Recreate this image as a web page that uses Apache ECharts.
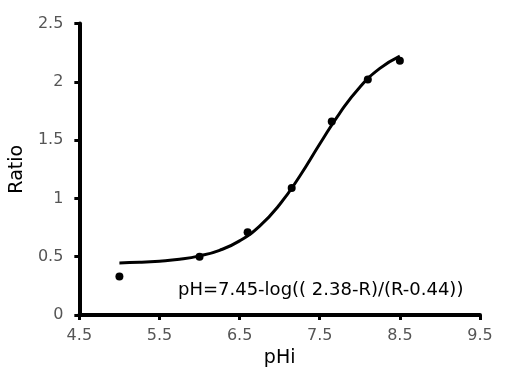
<!DOCTYPE html>
<html>
<head>
<meta charset="utf-8">
<script src="https://cdn.jsdelivr.net/npm/echarts@6/dist/echarts.min.js"></script>
<style>html,body{margin:0;padding:0;background:#fff}#c{width:508px;height:381px}</style>
</head>
<body>
<div id="c"></div>
<script>
// Measured points (pHi, Ratio)
var pointPH = [5.0, 6.0, 6.6, 7.15, 7.65, 8.1, 8.5];
var pointRatio = [0.33, 0.50, 0.71, 1.09, 1.66, 2.02, 2.18];
// Fitted curve
var fitPH = [5.0, 5.25, 5.5, 5.75, 6.0, 6.25, 6.5, 6.75, 7.0, 7.25, 7.5, 7.75, 8.0, 8.25, 8.5];
var fitRatio = [0.447, 0.452, 0.462, 0.478, 0.507, 0.555, 0.636, 0.763, 0.948, 1.19, 1.466, 1.732, 1.954, 2.115, 2.221];
var xTicks = [4.5, 5.5, 6.5, 7.5, 8.5, 9.5];
var yTicks = [0, 0.5, 1, 1.5, 2, 2.5];
var equationText = 'pH=7.45-log(( 2.38-R)/(R-0.44))';

var chart = echarts.init(document.getElementById('c'), null, {renderer: 'canvas'});
function zip(a, b) { return a.map(function (v, i) { return [v, b[i]]; }); }
var axisCommon = {
  axisLine: {show: true, lineStyle: {color: '#000', width: 4}},
  axisTick: {show: true, inside: false, length: 5, lineStyle: {color: '#000', width: 3}},
  splitLine: {show: false},
  nameTextStyle: {fontFamily: 'DejaVu Sans', fontSize: 19, color: '#000'}
};
chart.setOption({
  animation: false,
  backgroundColor: '#fff',
  grid: {left: 78, right: 28, top: 23.5, bottom: 66, containLabel: false},
  xAxis: Object.assign({}, axisCommon, {
    type: 'value', min: xTicks[0], max: xTicks[xTicks.length - 1], interval: 1,
    name: 'pHi', nameLocation: 'middle', nameGap: 32,
    axisLabel: {fontFamily: 'DejaVu Sans', fontSize: 16, color: '#555', margin: 13}
  }),
  yAxis: Object.assign({}, axisCommon, {
    type: 'value', min: yTicks[0], max: yTicks[yTicks.length - 1], interval: 0.5,
    name: 'Ratio', nameLocation: 'middle', nameGap: 52, nameRotate: 90,
    axisLabel: {fontFamily: 'DejaVu Sans', fontSize: 16, color: '#555', margin: 16}
  }),
  series: [
    {
      type: 'line', data: zip(fitPH, fitRatio), smooth: true, showSymbol: false,
      lineStyle: {color: '#000', width: 3}, silent: true, z: 2
    },
    {
      type: 'scatter', data: zip(pointPH, pointRatio), symbol: 'circle', symbolSize: 8,
      itemStyle: {color: '#000', opacity: 1}, z: 3
    }
  ],
  graphic: [{
    type: 'text', x: 178, y: 290,
    style: {text: equationText, fontFamily: 'DejaVu Sans', fontSize: 18, fill: '#000', verticalAlign: 'middle', align: 'left'}
  }]
});
</script>
</body>
</html>
